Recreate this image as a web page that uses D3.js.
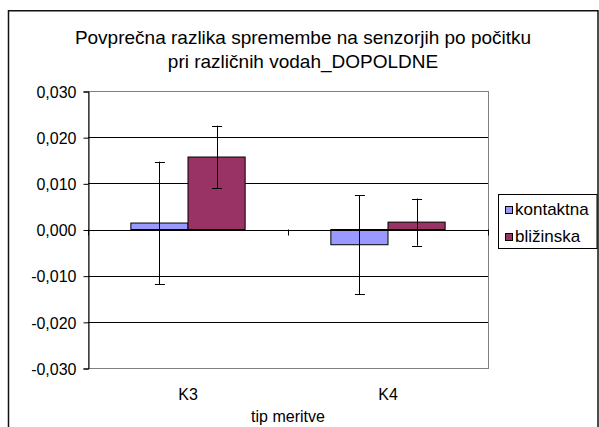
<!DOCTYPE html>
<html><head><meta charset="utf-8">
<script src="https://cdn.jsdelivr.net/npm/d3@7"></script>
<style>body{margin:0;background:#fff}text{font-family:"Liberation Sans",Arial,sans-serif;fill:#000}</style>
</head><body><svg id="c" width="599" height="427"></svg>
<script>
const categories = ["K3", "K4"];
const series = ["kontaktna", "bližinska"];
const kontaktna = [0.0014, -0.0033];
const blizinska = [0.0157, 0.0016];
const kontaktnaErr = [0.0133, 0.0107];
const blizinskaErr = [0.0068, 0.0051];
const yTicks = [-0.03, -0.02, -0.01, 0, 0.01, 0.02, 0.03];
const titleLines = ["Povprečna razlika spremembe na senzorjih po počitku", "pri različnih vodah_DOPOLDNE"];
const xTitle = "tip meritve";
const colors = ["#9999FF", "#993366"];

const svg = d3.select("#c");
const P = {l: 88, r: 488, t: 91, b: 368};

const x0 = d3.scaleBand().domain(categories).range([P.l, P.r]);
const x1 = d3.scaleBand().domain(series).range([0, x0.bandwidth()]).paddingInner(0).paddingOuter(0.75);
const y = d3.scaleLinear().domain([-0.03, 0.03]).range([P.b, P.t]);
const fmt = v => v.toFixed(3).replace(".", ",");

// outer frame
svg.append("rect").attr("x", 8.5).attr("y", 10.75).attr("width", 589.5).attr("height", 440)
  .attr("fill", "none").attr("stroke", "#111").attr("stroke-width", 1.5);

// title
svg.append("text").attr("x", 303).attr("y", 44).attr("text-anchor", "middle")
  .attr("font-size", 19).text(titleLines[0]);
svg.append("text").attr("x", 303).attr("y", 68).attr("text-anchor", "middle")
  .attr("font-size", 19).text(titleLines[1]);

// plot border (gray)
svg.append("rect").attr("x", P.l + 0.5).attr("y", y(0.03) + 0.5).attr("width", P.r - P.l).attr("height", y(-0.03) - y(0.03))
  .attr("fill", "none").attr("stroke", "#808080").attr("stroke-width", 1);

// gridlines
svg.append("g").selectAll("line").data(yTicks.filter(d => d > -0.03 && d < 0.03)).join("line")
  .attr("x1", P.l).attr("x2", P.r).attr("y1", d => Math.round(y(d)) + 0.5).attr("y2", d => Math.round(y(d)) + 0.5)
  .attr("stroke", "#000").attr("stroke-width", 1);

// y axis
const ya = svg.append("g").attr("transform", `translate(${P.l + 0.5},0.5)`)
  .call(d3.axisLeft(y).tickValues(yTicks).tickFormat(fmt).tickSize(5).tickPadding(7));
ya.select(".domain").attr("stroke", "#000");
ya.selectAll(".tick line").attr("stroke", "#000");
ya.selectAll("text").attr("font-size", 16).attr("font-family", '"Liberation Sans",Arial,sans-serif').attr("dy", "0.36em");

// bars
const data = categories.map((c, i) => ({c, vals: [
  {s: series[0], v: kontaktna[i], e: kontaktnaErr[i], col: colors[0]},
  {s: series[1], v: blizinska[i], e: blizinskaErr[i], col: colors[1]}
]}));
const g = svg.append("g").selectAll("g").data(data).join("g")
  .attr("transform", d => `translate(${x0(d.c)},0)`);
g.selectAll("rect").data(d => d.vals).join("rect")
  .attr("x", d => x1(d.s)).attr("width", x1.bandwidth())
  .attr("y", d => y(Math.max(0, d.v))).attr("height", d => Math.abs(y(d.v) - y(0)))
  .attr("fill", d => d.col).attr("stroke", "#000").attr("stroke-width", 1);

// x axis at zero with ticks
const xa = svg.append("g");
xa.append("line").attr("x1", P.l).attr("x2", P.r).attr("y1", Math.round(y(0)) + 0.5).attr("y2", Math.round(y(0)) + 0.5).attr("stroke", "#000");
const bounds = [P.l, ...categories.map(c => x0(c) + x0.bandwidth())];
xa.selectAll("line.t").data(bounds).join("line").attr("class", "t")
  .attr("x1", d => Math.round(d) + 0.5).attr("x2", d => Math.round(d) + 0.5)
  .attr("y1", y(0)).attr("y2", y(0) + 6).attr("stroke", "#000");

// error bars
const eb = g.selectAll("g.e").data(d => d.vals).join("g").attr("class", "e");
eb.append("line").attr("x1", d => Math.round(x1(d.s) + x1.bandwidth() / 2) + 0.5).attr("x2", d => Math.round(x1(d.s) + x1.bandwidth() / 2) + 0.5)
  .attr("y1", d => y(d.v + d.e)).attr("y2", d => y(d.v - d.e)).attr("stroke", "#000");
[1, -1].forEach(sg => {
  eb.append("line").attr("x1", d => x1(d.s) + x1.bandwidth() / 2 - 4.5).attr("x2", d => x1(d.s) + x1.bandwidth() / 2 + 5.5)
    .attr("y1", d => Math.round(y(d.v + sg * d.e)) + 0.5).attr("y2", d => Math.round(y(d.v + sg * d.e)) + 0.5).attr("stroke", "#000");
});

// category labels
svg.append("g").selectAll("text").data(categories).join("text")
  .attr("x", d => x0(d) + x0.bandwidth() / 2).attr("y", 399.5).attr("text-anchor", "middle").attr("font-size", 16).text(d => d);
svg.append("text").attr("x", (P.l + P.r) / 2).attr("y", 421.7).attr("text-anchor", "middle").attr("font-size", 16).text(xTitle);

// legend
const lg = svg.append("g");
lg.append("rect").attr("x", 498.5).attr("y", 194.5).attr("width", 98.5).attr("height", 54)
  .attr("fill", "#fff").attr("stroke", "#000");
const li = lg.selectAll("g").data(series).join("g")
  .attr("transform", (d, i) => `translate(0,${i * 27})`);
li.append("rect").attr("x", 505.5).attr("y", 206.5).attr("width", 7).attr("height", 7)
  .attr("fill", (d, i) => colors[i]).attr("stroke", "#000");
li.append("text").attr("x", 515).attr("y", 214.5).attr("font-size", 17).text(d => d);
</script></body></html>
